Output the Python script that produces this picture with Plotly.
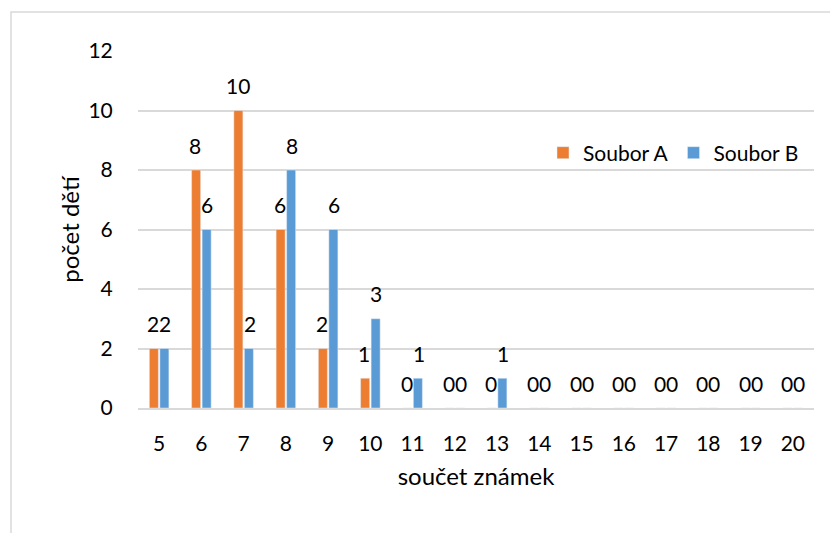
import plotly.graph_objects as go

# Sum of marks (x categories) and number of children per group
soucet = ["5", "6", "7", "8", "9", "10", "11", "12", "13", "14", "15", "16", "17", "18", "19", "20"]
soubor_a = [2, 8, 10, 6, 2, 1, 0, 0, 0, 0, 0, 0, 0, 0, 0, 0]
soubor_b = [2, 6, 2, 8, 6, 3, 1, 0, 1, 0, 0, 0, 0, 0, 0, 0]
y_ticks = [0, 2, 4, 6, 8, 10, 12]

ORANGE = "#ED7D31"
BLUE = "#5B9BD5"
GRID = "#D9D9D9"
FONT = "Lato"
FS = 21
FS_TITLE = 24

fig = go.Figure()
fig.add_trace(go.Bar(name="Soubor A", x=soucet, y=soubor_a, marker_color=ORANGE))
fig.add_trace(go.Bar(name="Soubor B", x=soucet, y=soubor_b, marker_color=BLUE))

# Value labels above each bar (category axis: position by category index)
annotations = []
for vals, shift in ((soubor_a, -6), (soubor_b, 6)):
    for i, v in enumerate(vals):
        annotations.append(dict(
            x=i, y=v, xref="x", yref="y", text=str(v), showarrow=False,
            xshift=shift, yshift=25, yanchor="middle",
            font=dict(family=FONT, size=FS, color="#000000"),
        ))

# Outer chart frame
shapes = [dict(
    type="rect", xref="paper", yref="paper",
    x0=(11 - 138) / 676, x1=(845 - 138) / 676,
    y0=(408 - 545) / 357, y1=1 + (51 - 12) / 357,
    line=dict(color=GRID, width=1.5), fillcolor="rgba(0,0,0,0)", layer="below",
)]

fig.update_layout(
    width=830, height=533,
    margin=dict(l=138, r=16, t=51, b=125),
    paper_bgcolor="white", plot_bgcolor="white",
    barmode="group", bargap=0.503, bargroupgap=0.14,
    font=dict(family=FONT, size=FS, color="#000000"),
    showlegend=True,
    legend=dict(
        orientation="h", x=(543 - 138) / 676, y=(408 - 153) / 357,
        xanchor="left", yanchor="middle",
        font=dict(family=FONT, size=FS, color="#000000"),
        bgcolor="rgba(0,0,0,0)", itemclick=False,
    ),
    annotations=annotations,
    shapes=shapes,
)
fig.update_xaxes(
    type="category", showgrid=False, showline=True, linecolor=GRID, linewidth=1.5,
    ticks="outside", ticklen=16, tickcolor="rgba(0,0,0,0)",
    title=dict(text="součet známek", standoff=14, font=dict(family=FONT, size=FS_TITLE)),
)
fig.update_yaxes(
    range=[0, 12], tickvals=y_ticks, showgrid=True, gridcolor=GRID, gridwidth=1.5,
    zeroline=False, showline=False,
    ticks="outside", ticklen=20, tickcolor="rgba(0,0,0,0)",
    title=dict(text="počet dětí", standoff=2, font=dict(family=FONT, size=FS_TITLE)),
)

fig.write_html("out.html")
